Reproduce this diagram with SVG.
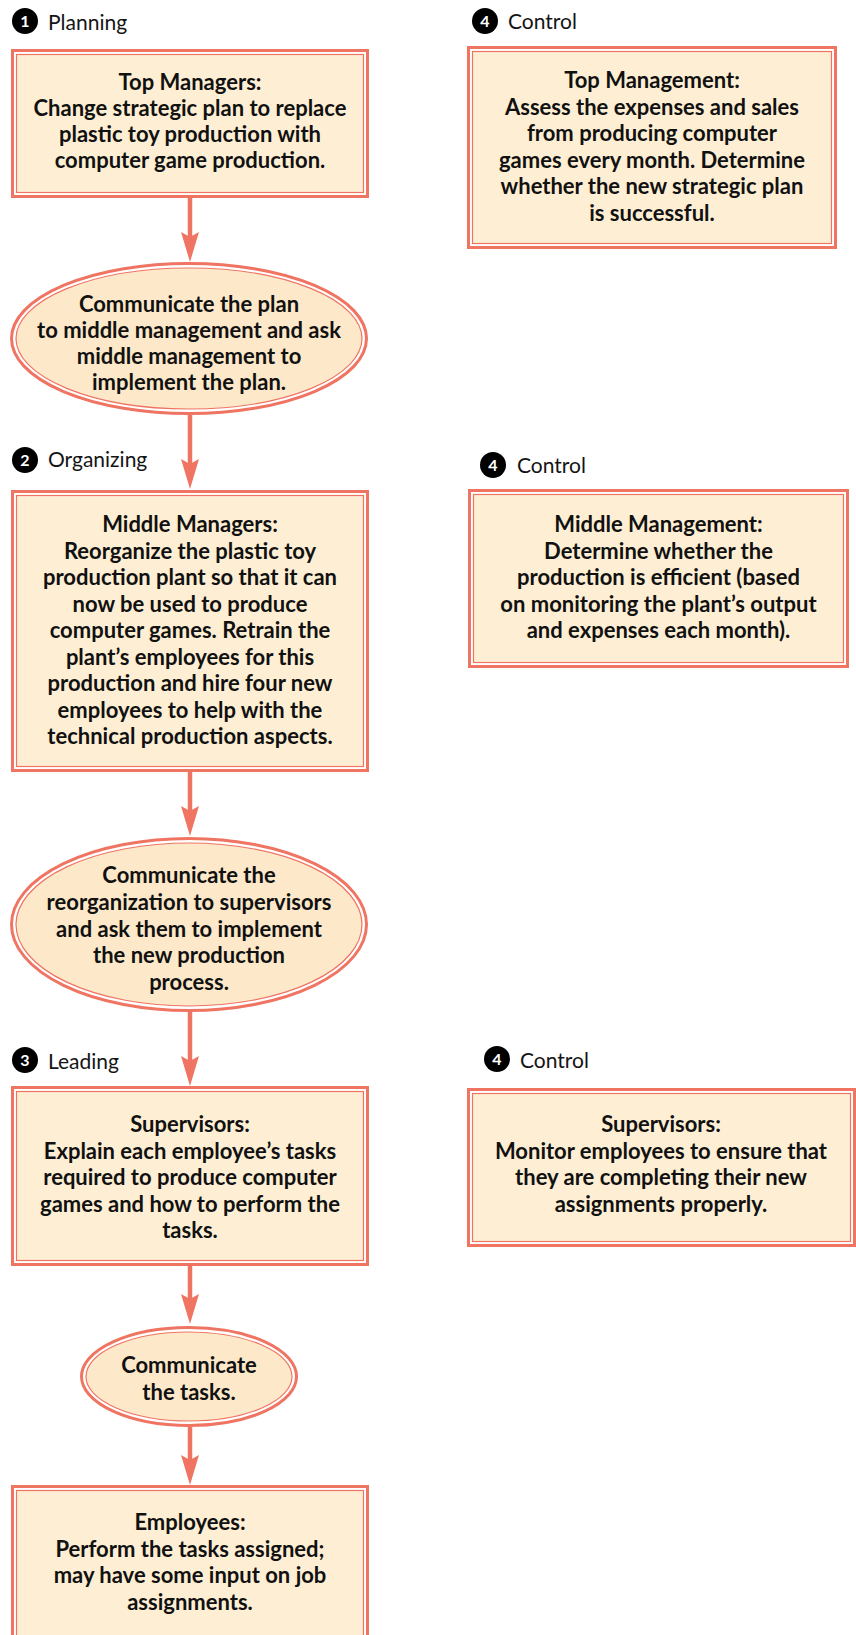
<svg xmlns="http://www.w3.org/2000/svg" width="856" height="1635" viewBox="0 0 856 1635">
<defs>
<style>
.ob{fill:#ffffff;stroke:#F07462;stroke-width:3}
.ib{fill:#FEEFD4;stroke:#F07462;stroke-width:1.2}
.ie{fill:#FDE9C9;stroke:#F07462;stroke-width:1.2}
.t{font-family:Lato,"Open Sans",sans-serif;font-weight:bold;font-size:22px;fill:#111111;text-anchor:middle}
.lbl{font-family:Lato,"Open Sans",sans-serif;font-size:21px;fill:#141414}
.num{font-family:Lato,"Open Sans",sans-serif;font-weight:bold;font-size:16px;fill:#ffffff;text-anchor:middle}
.conn{stroke:#F07462;stroke-width:4.5;fill:none}
</style>
<marker id="ah" viewBox="0 0 30 18" refX="5" refY="9" markerWidth="30" markerHeight="18" markerUnits="userSpaceOnUse" orient="auto">
<path d="M0,0 L30,9 L0,18 L5,9 Z" fill="#F07462"/>
</marker>
</defs>

<g id="connectors">
<line class="conn" x1="190" y1="198" x2="190" y2="237" marker-end="url(#ah)"/>
<line class="conn" x1="190" y1="415" x2="190" y2="464" marker-end="url(#ah)"/>
<line class="conn" x1="190" y1="772" x2="190" y2="811" marker-end="url(#ah)"/>
<line class="conn" x1="190" y1="1012" x2="190" y2="1061" marker-end="url(#ah)"/>
<line class="conn" x1="190" y1="1266" x2="190" y2="1299" marker-end="url(#ah)"/>
<line class="conn" x1="190" y1="1427" x2="190" y2="1460" marker-end="url(#ah)"/>
</g>

<g id="label-planning">
<circle cx="25" cy="21" r="13" fill="#000"/>
<text class="num" x="25" y="26.5">1</text>
<text class="lbl" x="48" y="30">Planning</text>
</g>
<g id="label-organizing">
<circle cx="25" cy="460" r="13" fill="#000"/>
<text class="num" x="25" y="465.5">2</text>
<text class="lbl" x="48" y="467">Organizing</text>
</g>
<g id="label-leading">
<circle cx="25" cy="1060" r="13" fill="#000"/>
<text class="num" x="25" y="1065.5">3</text>
<text class="lbl" x="48" y="1069">Leading</text>
</g>
<g id="label-control-1">
<circle cx="485" cy="21" r="13" fill="#000"/>
<text class="num" x="485" y="26.5">4</text>
<text class="lbl" x="508" y="29">Control</text>
</g>
<g id="label-control-2">
<circle cx="493" cy="465" r="13" fill="#000"/>
<text class="num" x="493" y="470.5">4</text>
<text class="lbl" x="517" y="473">Control</text>
</g>
<g id="label-control-3">
<circle cx="497" cy="1059" r="13" fill="#000"/>
<text class="num" x="497" y="1064.5">4</text>
<text class="lbl" x="520" y="1068">Control</text>
</g>

<g id="top-managers">
<rect class="ob" x="12.5" y="50.5" width="355" height="146"/>
<rect class="ib" x="16.5" y="54.5" width="347" height="138"/>
<text class="t" x="190" y="90">Top Managers:</text>
<text class="t" x="190" y="116">Change strategic plan to replace</text>
<text class="t" x="190" y="142">plastic toy production with</text>
<text class="t" x="190" y="168">computer game production.</text>
</g>

<g id="communicate-plan">
<ellipse cx="189" cy="338.5" rx="177.5" ry="75" fill="#ffffff" stroke="#F07462" stroke-width="3"/>
<ellipse class="ie" cx="189" cy="338.5" rx="173" ry="70.5"/>
<text class="t" x="189" y="312">Communicate the plan</text>
<text class="t" x="189" y="338">to middle management and ask</text>
<text class="t" x="189" y="364">middle management to</text>
<text class="t" x="189" y="390">implement the plan.</text>
</g>

<g id="middle-managers">
<rect class="ob" x="12.5" y="491.5" width="355" height="279"/>
<rect class="ib" x="16.5" y="495.5" width="347" height="271"/>
<text class="t" x="190" y="532">Middle Managers:</text>
<text class="t" x="190" y="558.5">Reorganize the plastic toy</text>
<text class="t" x="190" y="585">production plant so that it can</text>
<text class="t" x="190" y="611.5">now be used to produce</text>
<text class="t" x="190" y="638">computer games. Retrain the</text>
<text class="t" x="190" y="664.5">plant’s employees for this</text>
<text class="t" x="190" y="691">production and hire four new</text>
<text class="t" x="190" y="717.5">employees to help with the</text>
<text class="t" x="190" y="744">technical production aspects.</text>
</g>

<g id="communicate-reorganization">
<ellipse cx="189" cy="924.5" rx="177.5" ry="86" fill="#ffffff" stroke="#F07462" stroke-width="3"/>
<ellipse class="ie" cx="189" cy="924.5" rx="173" ry="81.5"/>
<text class="t" x="189" y="883">Communicate the</text>
<text class="t" x="189" y="910">reorganization to supervisors</text>
<text class="t" x="189" y="936.5">and ask them to implement</text>
<text class="t" x="189" y="963">the new production</text>
<text class="t" x="189" y="990">process.</text>
</g>

<g id="supervisors">
<rect class="ob" x="12.5" y="1087.5" width="355" height="177"/>
<rect class="ib" x="16.5" y="1091.5" width="347" height="169"/>
<text class="t" x="190" y="1132">Supervisors:</text>
<text class="t" x="190" y="1158.5">Explain each employee’s tasks</text>
<text class="t" x="190" y="1185">required to produce computer</text>
<text class="t" x="190" y="1211.5">games and how to perform the</text>
<text class="t" x="190" y="1238">tasks.</text>
</g>

<g id="communicate-tasks">
<ellipse cx="189" cy="1376.5" rx="107.5" ry="49" fill="#ffffff" stroke="#F07462" stroke-width="3"/>
<ellipse class="ie" cx="189" cy="1376.5" rx="103" ry="44.5"/>
<text class="t" x="189" y="1373">Communicate</text>
<text class="t" x="189" y="1400">the tasks.</text>
</g>

<g id="employees">
<rect class="ob" x="12.5" y="1486.5" width="355" height="170"/>
<rect class="ib" x="16.5" y="1490.5" width="347" height="170"/>
<text class="t" x="190" y="1530">Employees:</text>
<text class="t" x="190" y="1556.5">Perform the tasks assigned;</text>
<text class="t" x="190" y="1583">may have some input on job</text>
<text class="t" x="190" y="1609.5">assignments.</text>
</g>

<g id="control-top">
<rect class="ob" x="468.5" y="47.5" width="367" height="200"/>
<rect class="ib" x="472.5" y="51.5" width="359" height="192"/>
<text class="t" x="652" y="88">Top Management:</text>
<text class="t" x="652" y="114.5">Assess the expenses and sales</text>
<text class="t" x="652" y="141">from producing computer</text>
<text class="t" x="652" y="167.5">games every month. Determine</text>
<text class="t" x="652" y="194">whether the new strategic plan</text>
<text class="t" x="652" y="220.5">is successful.</text>
</g>

<g id="control-middle">
<rect class="ob" x="469.5" y="490.5" width="378" height="176"/>
<rect class="ib" x="473.5" y="494.5" width="370" height="168"/>
<text class="t" x="658.5" y="532">Middle Management:</text>
<text class="t" x="658.5" y="558.5">Determine whether the</text>
<text class="t" x="658.5" y="585">production is efficient (based</text>
<text class="t" x="658.5" y="611.5">on monitoring the plant’s output</text>
<text class="t" x="658.5" y="638">and expenses each month).</text>
</g>

<g id="control-supervisors">
<rect class="ob" x="468.5" y="1089.5" width="386" height="156"/>
<rect class="ib" x="472.5" y="1093.5" width="378" height="148"/>
<text class="t" x="661" y="1132">Supervisors:</text>
<text class="t" x="661" y="1158.5">Monitor employees to ensure that</text>
<text class="t" x="661" y="1185">they are completing their new</text>
<text class="t" x="661" y="1211.5">assignments properly.</text>
</g>
</svg>
